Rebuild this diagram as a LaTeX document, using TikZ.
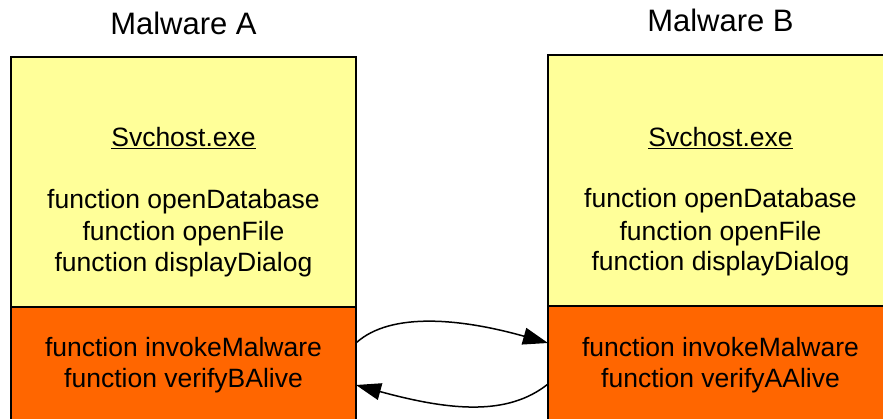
\documentclass[tikz,border=0pt]{standalone}
\usepackage{fontspec}
\setmainfont{Liberation Sans}
\usetikzlibrary{arrows.meta,calc}
\definecolor{paleyellow}{HTML}{FFFF99}
\definecolor{malorange}{HTML}{FF6600}
\begin{document}
\begin{tikzpicture}[x=1pt,y=-1pt,
  box/.style={draw=black, line width=1.5pt, inner sep=0pt, outer sep=0pt, anchor=north west, minimum width=345pt},
  ytxt/.style={font=\fontsize{26.5}{32}\selectfont, anchor=base, inner sep=0pt},
  ttl/.style={font=\fontsize{31}{36}\selectfont, anchor=base, inner sep=0pt},
  conn/.style={draw=black, line width=1.5pt, -{Triangle[length=25pt,width=17pt]}}]
\useasboundingbox (0,0) rectangle (883,419);
\clip (0,0) rectangle (883,419);
% Malware A
\node[box, fill=paleyellow, minimum height=250pt] (ya) at (11,57) {};
\node[box, fill=malorange, minimum height=140pt] (oa) at (ya.south west) {};
% Malware B
\node[box, fill=paleyellow, minimum height=251pt] (yb) at (548,55) {};
\node[box, fill=malorange, minimum height=140pt] (ob) at (yb.south west) {};
% titles
\node[ttl] (ta) at (183.5,35) {Malware A};
\node[ttl] (tb) at (720.5,32) {Malware B};
% texts A
\node[ytxt] (sa) at (183.5,147) {\underline{Svchost.exe}};
\node[ytxt] (a1t) at (183.5,209) {function openDatabase};
\node[ytxt] (a2t) at (183.5,241) {function openFile};
\node[ytxt] (a3t) at (183.5,272) {function displayDialog};
\node[ytxt] (a4t) at (183.5,356) {function invokeMalware};
\node[ytxt] (a5t) at (183.5,387) {function verifyBAlive};
% texts B
\node[ytxt] (sb) at (720.5,147) {\underline{Svchost.exe}};
\node[ytxt] (b1t) at (720.5,208) {function openDatabase};
\node[ytxt] (b2t) at (720.5,241) {function openFile};
\node[ytxt] (b3t) at (720.5,271) {function displayDialog};
\node[ytxt] (b4t) at (720.5,356) {function invokeMalware};
\node[ytxt] (b5t) at (720.5,387) {function verifyAAlive};
% connectors
\coordinate (pa1) at ([yshift=-36pt]oa.north east);
\coordinate (pb1) at ([yshift=-37pt]ob.north west);
\coordinate (pb2) at ([yshift=-78pt]ob.north west);
\coordinate (pa2) at ([yshift=-78pt]oa.north east);
\draw[conn] (pa1) .. controls ($(pa1)+(35,-32)$) and ($(pb1)+(-85,-24)$) .. (pb1);
\draw[conn] (pb2) .. controls ($(pb2)+(-40,32)$) and ($(pa2)+(95,26)$) .. (pa2);
\end{tikzpicture}
\end{document}
